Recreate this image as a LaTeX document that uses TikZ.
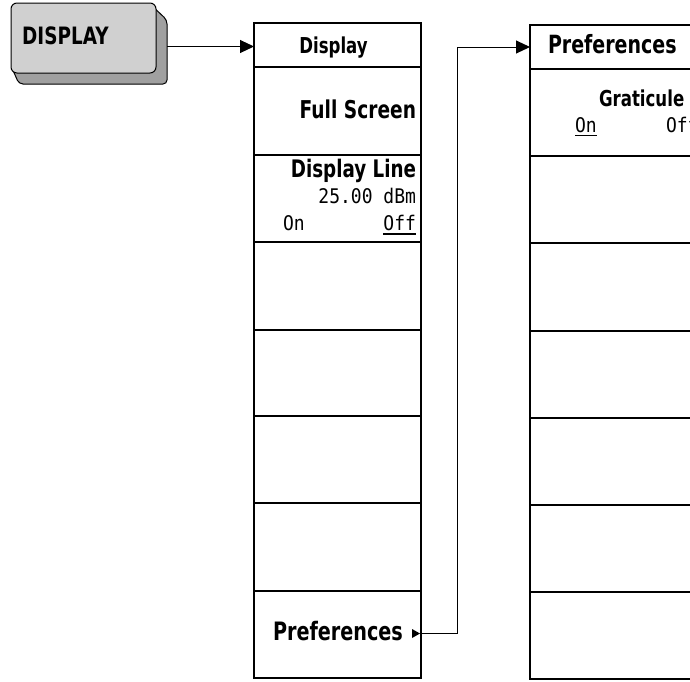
\documentclass[tikz,border=0pt]{standalone}
\usepackage{fontspec}
\usepackage{graphicx}
\setmainfont{DejaVu Sans}
\newfontfamily\monof{DejaVu Sans Mono}
\usetikzlibrary{arrows.meta}
\definecolor{keyface}{RGB}{208,208,208}
\definecolor{keyside}{RGB}{160,160,160}
\newcommand{\tallb}[1]{\scalebox{1}[1.32]{#1}}
\newcommand{\tallm}[1]{\scalebox{1}[1.12]{#1}}
\tikzset{
  cell/.style={draw=black, line width=1.4pt, minimum width=167pt, inner sep=0pt, outer sep=0pt, fill=white},
  lbl/.style={inner sep=0pt, outer sep=0pt, font=\fontsize{#1}{20}\selectfont\bfseries},
  lbl/.default=18,
  val/.style={inner sep=0pt, outer sep=0pt, font=\fontsize{18}{20}\selectfont\monof},
  conn/.style={draw=black, line width=1pt},
  tip/.style={-{Triangle[length=14pt,width=13pt]}},
  uline/.style={draw=black, line width=1.2pt}
}
\begin{document}
\begin{tikzpicture}[x=1pt,y=-1pt]
\clip (0,0) rectangle (690,681);
\fill[white] (0,0) rectangle (690,681);
% DISPLAY hard key
\filldraw[fill=keyside, draw=black, line width=1pt, rounded corners=4pt]
  (150,4) -- (167,20) -- (167,84) -- (19,84) -- (12,68) -- cycle;
\node[draw=black, fill=keyface, line width=1pt, rounded corners=6pt,
      minimum width=145pt, minimum height=70pt, inner sep=0pt, outer sep=0pt] (key) at (83.5,38) {};
\node[inner sep=0pt, anchor=base west, font=\fontsize{18.4}{22}\selectfont\bfseries] (keytxt) at (22,44) {\scalebox{1}[1.3]{DISPLAY}};
\coordinate (keyedge) at (167,46.5);
% left menu
\node[cell, minimum height=44pt] (L0) at (337.5,45) {};
\node[cell, minimum height=88pt] (L1) at (337.5,111) {};
\node[cell, minimum height=87pt] (L2) at (337.5,198.5) {};
\node[cell, minimum height=88pt] (L3) at (337.5,286) {};
\node[cell, minimum height=86pt] (L4) at (337.5,373) {};
\node[cell, minimum height=87pt] (L5) at (337.5,459.5) {};
\node[cell, minimum height=88pt] (L6) at (337.5,547) {};
\node[cell, minimum height=87pt] (L7) at (337.5,634.5) {};
% right menu
\node[cell, minimum height=44pt] (R0) at (613.5,47) {};
\node[cell, minimum height=87pt] (R1) at (613.5,112.5) {};
\node[cell, minimum height=87pt] (R2) at (613.5,199.5) {};
\node[cell, minimum height=88pt] (R3) at (613.5,287) {};
\node[cell, minimum height=87pt] (R4) at (613.5,374.5) {};
\node[cell, minimum height=87pt] (R5) at (613.5,461.5) {};
\node[cell, minimum height=87pt] (R6) at (613.5,548.5) {};
\node[cell, minimum height=87pt] (R7) at (613.5,635.5) {};
% left labels
\node[lbl=16.6, anchor=base] (tDisp) at (333.5,53) {\tallb{Display}};
\node[lbl=18.6, anchor=base east] (tFull) at (416,118) {\tallb{Full Screen}};
\node[lbl=18.3, anchor=base east] (tDL) at (416,177) {\tallb{Display Line}};
\node[val, anchor=base east] (tVal) at (416,203) {\tallm{25.00 dBm}};
\node[val, anchor=base west] (tOn) at (283,230) {\tallm{On}};
\node[val, anchor=base east] (tOff) at (416,230) {\tallm{Off}};
\draw[uline] ([yshift=-4pt]tOff.base west) -- ([yshift=-4pt]tOff.base east);
\node[lbl=19.2, anchor=base west] (tPref) at (273,640) {\tallb{Preferences}};
\fill[black] (412,629) -- (420,633.5) -- (412,638) -- cycle;
\coordinate (prefout) at (420,633.5);
% right labels
\node[lbl=19, anchor=base west] (tPrefH) at (548,53.5) {\tallb{Preferences}};
\node[lbl=16.6, anchor=base west] (tGrat) at (599,106) {\tallb{Graticule}};
\node[val, anchor=base west] (tOn2) at (575,132) {\tallm{On}};
\draw[uline] ([yshift=-3.5pt]tOn2.base west) -- ([yshift=-3.5pt]tOn2.base east);
\node[val, anchor=base west] (tOff2) at (666,132) {\tallm{Off}};
% connectors
\draw[conn, tip] (keyedge) -- (keyedge -| L0.west);
\draw[conn, tip] (prefout) -- (457,633.5) |- (R0.west);
\end{tikzpicture}
\end{document}
